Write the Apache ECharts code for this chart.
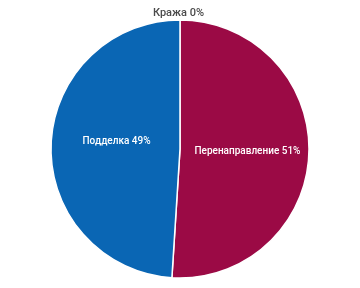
<!DOCTYPE html>
<html><head><meta charset="utf-8">
<script src="https://cdn.jsdelivr.net/npm/echarts@6/dist/echarts.min.js"></script>
<style>html,body{margin:0;padding:0;background:#fff}#c{width:360px;height:288px}</style>
</head><body><div id="c"></div>
<script>
var categories = ['Кража', 'Перенаправление', 'Подделка'];
var values = [0, 51, 49];
var colors = ['#9b0a45', '#9b0a45', '#0a66b4'];

var chart = echarts.init(document.getElementById('c'), null, {renderer: 'canvas'});
var data = categories.map(function (n, i) {
  var d = {name: n, value: values[i], itemStyle: {color: colors[i]}};
  if (i === 0) {
    d.label = {position: 'outside', color: '#4a4a4a', fontSize: 11, fontWeight: 500, offset: [29, -5]};
    d.labelLine = {show: false, length: 2, length2: 0};
  }
  if (i === 2) {
    d.label = {offset: [4, -5]};
  }
  return d;
});
chart.setOption({
  animation: false,
  series: [{
    type: 'pie',
    center: [180, 149],
    radius: [0, 129],
    startAngle: 90,
    clockwise: true,
    avoidLabelOverlap: false,
    itemStyle: {borderColor: '#fff', borderWidth: 1.5},
    label: {
      show: true,
      position: 'inside',
      color: '#fff',
      fontSize: 10,
      fontWeight: 500,
      fontFamily: 'Roboto, sans-serif',
      formatter: function (p) { return p.name + ' ' + Math.round(p.percent) + '%'; }
    },
    data: data
  }]
});
</script></body></html>
